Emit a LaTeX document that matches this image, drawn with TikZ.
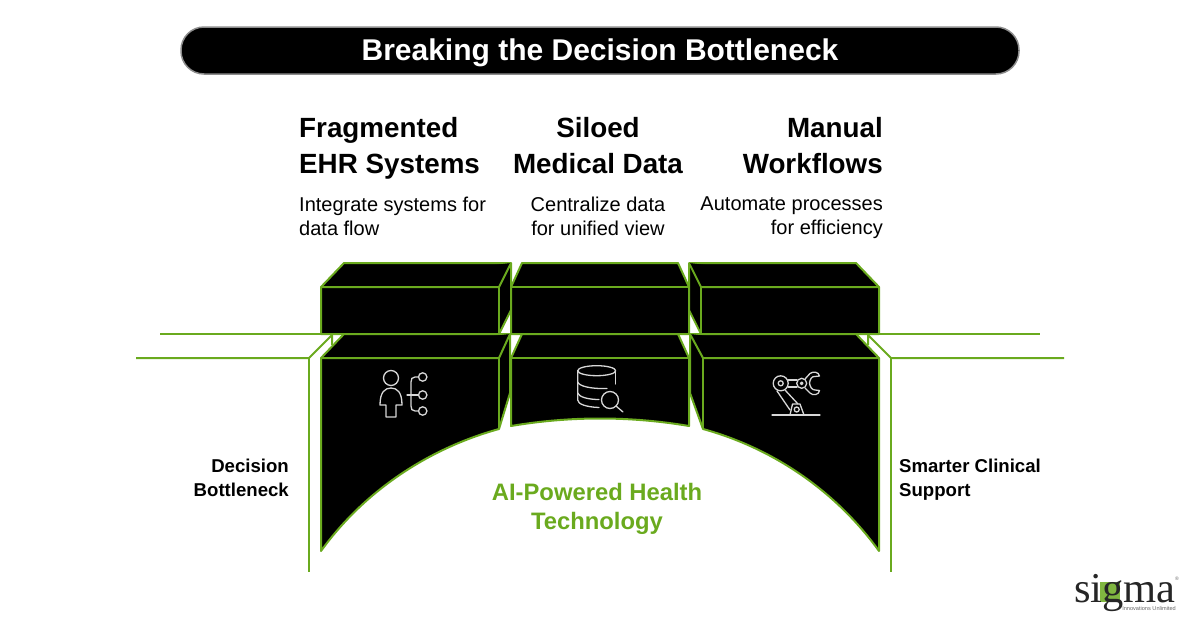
\documentclass[tikz,border=0pt]{standalone}
\usepackage{xcolor}
\usepackage{fontspec}
\setmainfont{Liberation Sans}
\newfontfamily\logofont{Liberation Serif}
\definecolor{sigmagreen}{RGB}{106, 170, 30}
\definecolor{iconwhite}{RGB}{215, 215, 215}
\tikzset{
  blockface/.style={fill=black, draw=sigmagreen, line width=2pt, line join=round},
  edgeline/.style={draw=sigmagreen, line width=2pt},
  iconline/.style={draw=iconwhite, line width=1.3pt, line join=round, line cap=round},
  headtext/.style={inner sep=0pt, font=\fontsize{27.8}{36}\selectfont\bfseries},
  subtext/.style={inner sep=0pt, font=\fontsize{20}{24}\selectfont},
  sidetext/.style={inner sep=0pt, font=\fontsize{18.6}{24}\selectfont\bfseries}
}

\begin{document}
\begin{tikzpicture}[x=1pt, y=-1pt]
        \useasboundingbox (0,0) rectangle (1200,627);

        \draw[rounded corners=23pt, fill=black, draw=black!45, line width=1.5pt] (181,27) rectangle (1019,74);
        \node (title) [inner sep=0pt, text=white, font=\fontsize{30}{36}\selectfont\bfseries] at (600,52.5) {Breaking the Decision Bottleneck};

        \node (frag) [headtext, anchor=north west, align=left] at (299,117) {Fragmented\\EHR Systems};
        \node (silo) [headtext, anchor=north, align=center] at (598,117) {Siloed\\Medical Data};
        \node (manu) [headtext, anchor=north east, align=right] at (883,117) {Manual\\Workflows};
        \node (fragsub) [subtext, anchor=north west, align=left] at (299,197) {Integrate systems for\\data flow};
        \node (silosub) [subtext, anchor=north, align=center] at (598,197) {Centralize data\\for unified view};
        \node (manusub) [subtext, anchor=north east, align=right] at (883,197) {Automate processes\\for efficiency};

        \draw[edgeline] (160,334) -- (321,334);
        \draw[edgeline] (879,334) -- (1040,334);
        \draw[edgeline] (136,358) -- (309,358) -- (332,335) -- (332,345);
        \draw[edgeline] (309,358) -- (309,572);
        \draw[edgeline] (1064,358) -- (891,358) -- (868,335) -- (868,345);
        \draw[edgeline] (891,358) -- (891,572);

        \draw[blockface] (321,287) -- (344,263) -- (511,263) -- (511,310) -- (499,334) -- (321,334) -- cycle;
        \draw[blockface] (321,287) -- (499,287) -- (511,263);
        \draw[blockface] (499,287) -- (499,334);
        \draw[blockface] (511,287) -- (522,263) -- (678,263) -- (689,287) -- (689,334) -- (511,334) -- cycle;
        \draw[blockface] (511,287) -- (689,287);
        \draw[blockface] (689,263) -- (856,263) -- (879,287) -- (879,334) -- (701,334) -- (689,310) -- cycle;
        \draw[blockface] (689,263) -- (701,287) -- (879,287);
        \draw[blockface] (701,287) -- (701,334);

        \draw[blockface] (321,358) -- (344,334) -- (510,334) -- (510,393) -- (499,429) .. controls (430,448) and (365,490) .. (321,551) -- cycle;
        \draw[blockface] (321,358) -- (499,358) -- (510,334);
        \draw[blockface] (499,358) -- (499,429);
        \draw[blockface] (511,358) -- (522,334) -- (678,334) -- (689,358) -- (689,426) .. controls (630,416) and (570,416) .. (511,426) -- cycle;
        \draw[blockface] (511,358) -- (689,358);
        \draw[blockface] (690,334) -- (856,334) -- (879,358) -- (879,551) .. controls (835,490) and (772,448) .. (703,429) -- (690,393) -- cycle;
        \draw[blockface] (690,334) -- (703,358) -- (879,358);
        \draw[blockface] (703,358) -- (703,429);

        \draw[iconline] (391,378) circle (7.5);
        \draw[iconline] (380,405) .. controls (380,392) and (385,388) .. (391,388) .. controls (397,388) and (402,392) .. (402,405) -- (396,405) -- (396,417) -- (386,417) -- (386,405) -- cycle;
        \draw[iconline] (407,395) -- (418.5,395);
        \draw[iconline] (418.5,377) -- (415,377) .. controls (412,377) and (411,379) .. (411,382) -- (411,406) .. controls (411,409) and (412,411) .. (415,411) -- (418.5,411);
        \foreach \cy in {377,395,411}
            \draw[iconline] (422.7,\cy) circle (4.2);

        \draw[iconline] (596.7,370.7) ellipse (19 and 5);
        \draw[iconline] (577.7,371) -- (577.7,400) .. controls (577.7,404) and (586,407) .. (599,407.5);
        \draw[iconline] (615.7,371) -- (615.7,384);
        \draw[iconline] (577.7,382) .. controls (579,386) and (590,389) .. (607,388.5);
        \draw[iconline] (577.7,393) .. controls (579,397) and (588,399.5) .. (599,399.5);
        \draw[iconline] (610,400) circle (8.5);
        \draw[iconline] (616,406) -- (623,412);

        \draw[iconline] (780.7,383.3) circle (7.5);
        \draw[iconline] (780.7,383.3) circle (2.5);
        \draw[iconline] (788,380) -- (797,380);
        \draw[iconline] (788,387) -- (797,387);
        \draw[iconline] (801.7,383.3) circle (5);
        \draw[iconline] (801.7,383.3) circle (1.3);
        \draw[iconline] (777,391) -- (790,410);
        \draw[iconline] (785,390) -- (798,404);
        \draw[iconline] (790,415) -- (792.5,404) -- (800,404) -- (804,415);
        \draw[iconline] (796.7,409.5) circle (2.5);
        \draw[iconline] (772,415) -- (820,415);
        \draw[iconline] (805,379) -- (810,373.5) .. controls (813,371) and (819,372) .. (819.5,376) -- (815,376.5) .. controls (812,376) and (810,379) .. (809.5,383) .. controls (810,387) and (812,390) .. (815,390) -- (819.5,390.5) .. controls (819,395) and (813,396) .. (810,393) -- (805,388);

        \node (bottleneck) [sidetext, anchor=north east, align=right] at (289,458.5) {Decision\\Bottleneck};
        \node (support) [sidetext, anchor=north west, align=left] at (899,458.5) {Smarter Clinical\\Support};
        \node (health) [inner sep=0pt, anchor=north, align=center, text=sigmagreen, font=\fontsize{23.8}{29.5}\selectfont\bfseries] at (597,483) {AI-Powered Health\\Technology};

        \fill[sigmagreen!85!white] (1100,582) rectangle (1120,602);
        \node (logo) [inner sep=0pt, anchor=base, text depth=0pt, text=black!85, font=\fontsize{42.5}{42.5}\logofont] at (1125,602) {sigma};
        \node (tagline) [inner sep=0pt, anchor=base east, text=black!60, font=\fontsize{5.6}{7}\selectfont] at (1176,610) {Innovations Unlimited};
        \node (regmark) [inner sep=0pt, text=black!60, font=\fontsize{5}{6}\selectfont] at (1177,579) {\textregistered};
    \end{tikzpicture}
\end{document}
